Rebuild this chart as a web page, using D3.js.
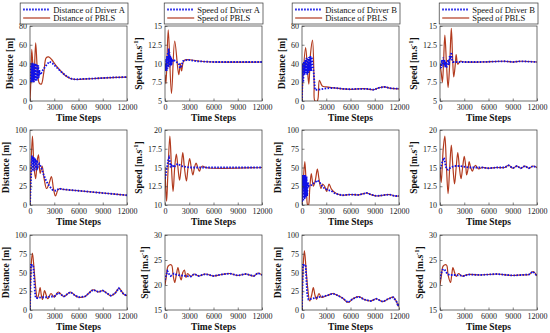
<!DOCTYPE html>
<html><head><meta charset="utf-8">
<script src="https://cdn.jsdelivr.net/npm/d3@7"></script>
<style>
body{margin:0;background:#fff}
text{font-family:"Liberation Serif","Times New Roman",serif}
</style></head>
<body><svg id="c" width="550" height="333"></svg>
<script>
// ---------- data ----------
const xTicks = [0, 3000, 6000, 9000, 12000];
const distTicks80 = [0, 20, 40, 60, 80];
const distTicks100 = [0, 25, 50, 75, 100];
const speedTicks5 = [5, 7.5, 10, 12.5, 15];
const speedTicks10 = [10, 12.5, 15, 17.5, 20];
const speedTicks15 = [15, 20, 25, 30];

const legendLabels = [
  ["Distance of Driver A", "Distance of PBLS"],
  ["Speed of Driver A", "Speed of PBLS"],
  ["Distance of Driver B", "Distance of PBLS"],
  ["Speed of Driver B", "Speed of PBLS"]
];

// Row 1
const r1DistA_driver = [[0,20],[60,40],[120,21],[180,40],[240,20],[300,41],[360,21],[420,40],[480,20],[540,40],[600,22],[660,40],[720,21],[780,40],[840,22],[900,39],[960,23],[1020,38],[1080,25],[1150,33],[1300,28],[1600,33],[2000,38],[2400,42],[2800,40],[3400,35],[4000,30],[4600,26],[5200,23.5],[5600,23],[6500,23.5],[8000,24],[10000,25],[12000,25.5]];
const r1DistA_pbls = [[0,0],[100,20],[220,55],[400,30],[480,20],[700,62],[900,35],[1150,19],[1400,18],[1700,30],[2000,46],[2300,47],[2700,44],[3200,38],[3800,32],[4400,27],[5000,24],[5500,23],[6500,23.3],[8000,24],[10000,25],[12000,25.5]];
const r1SpdA_driver = [[0,9],[50,10],[100,9.2],[150,10.6],[200,9],[250,11],[300,9.3],[350,11.5],[400,9.5],[450,12],[500,9.5],[550,11.5],[600,9.5],[650,11],[700,9.7],[750,10.8],[800,9.8],[900,10.6],[1000,10.2],[1200,10.4],[1700,10],[1850,9.4],[2000,9.6],[2200,10.3],[2800,10.5],[4000,10.3],[6000,10.2],[12000,10.2]];
const r1SpdA_pbls = [[0,8.5],[120,7.3],[400,14.5],[800,6],[1200,13],[1700,8.5],[1900,10],[2050,9],[2350,10.4],[3000,10.5],[4400,10.3],[6000,10.2],[12000,10.2]];
const r1DistB_driver = [[0,0],[80,40],[160,20],[240,42],[320,28],[400,44],[480,30],[560,46],[640,28],[720,45],[800,30],[880,47],[960,32],[1040,48],[1120,32],[1200,47],[1300,40],[1450,30],[1600,12],[2000,12],[3000,13.5],[4000,14],[5000,13],[6000,12.5],[7000,13],[8000,13],[8800,12],[9500,14],[10200,15],[11000,13.5],[12000,13]];
const r1DistB_pbls = [[0,0],[150,30],[450,57],[700,30],[850,18],[1050,50],[1300,65],[1500,20],[1600,0],[1900,0],[2150,22],[2500,16],[3000,15],[4000,14],[5000,13],[6000,12.5],[7000,13],[8000,13],[8800,12],[9500,14],[10200,15],[11000,13.5],[12000,13]];
const r1SpdB_driver = [[0,9.3],[80,10],[160,9.4],[240,10.5],[320,9.6],[400,10.8],[480,9.8],[560,10.5],[640,9.5],[720,10.2],[800,9.4],[900,10],[1000,10.5],[1100,9.8],[1200,11],[1300,10.6],[1400,11.5],[1500,10.5],[1600,10.2],[2000,10.2],[5000,10.2],[8000,10.3],[9000,10.2],[10000,10.3],[12000,10.2]];
const r1SpdB_pbls = [[0,10],[150,8.8],[300,7.5],[450,10.5],[600,13.8],[800,10],[1000,6.8],[1200,10],[1400,14.7],[1550,11],[1700,8.2],[1900,10],[2000,11.2],[2200,9.9],[2500,10.3],[3000,10.2],[5000,10.2],[8000,10.3],[9000,10.2],[10000,10.3],[12000,10.2]];

// Row 2
const r2DistA_driver = [[0,0],[100,30],[250,66],[350,45],[450,64],[550,45],[650,62],[750,47],[850,60],[950,50],[1150,55],[1400,50],[1700,40],[2000,32],[2400,25],[2800,20],[3200,19],[3600,22],[4000,21],[6000,19],[8000,17],[10000,15],[12000,13]];
const r2DistA_pbls = [[0,0],[100,40],[300,92],[500,50],[700,35],[900,60],[1050,67],[1250,42],[1500,52],[1750,35],[2050,22],[2400,30],[2650,38],[2900,22],[3150,12],[3450,20],[3700,22],[4000,21],[6000,19],[8000,17],[10000,15],[12000,13]];
const r2SpdA_driver = [[0,13.5],[100,14],[200,14.8],[300,15.3],[400,16],[500,16.3],[600,15.8],[700,15],[800,15.3],[900,15.4],[1100,15],[1300,15.3],[1600,15.5],[2000,15.2],[3000,15],[12000,15]];
const r2SpdA_pbls = [[0,15],[100,12],[200,10.5],[350,14],[600,19.2],[800,15],[1000,11.8],[1200,15],[1400,16.8],[1600,15],[1800,13.3],[2000,15],[2200,17],[2400,15],[2650,13.2],[2850,15],[3050,16.2],[3250,15],[3450,14],[3650,15],[3850,15.6],[4050,15],[4250,14.5],[4450,15],[4650,15.2],[5000,15],[12000,15]];
const r2DistB_driver = [[0,0],[80,40],[160,5],[240,40],[320,8],[400,40],[480,10],[560,38],[640,12],[720,30],[850,25],[1000,25],[1300,28],[1600,30],[1900,33],[2200,30],[2500,25],[2800,22],[3200,20],[3600,19],[4000,16],[4500,14],[5000,13],[6000,14],[7000,13.5],[8000,16],[8500,14],[9200,12],[10000,13],[10800,14],[11500,12],[12000,12]];
const r2DistB_pbls = [[0,0],[150,30],[350,58],[550,20],[700,0],[800,0],[950,20],[1150,42],[1400,25],[1650,33],[1900,48],[2100,35],[2350,22],[2550,28],[2800,25],[3050,18],[3350,28],[3600,22],[3900,18],[4300,15],[5000,13],[6000,14],[7000,13.5],[8000,16],[8500,14],[9200,12],[10000,13],[10800,14],[11500,12],[12000,12]];
const r2SpdB_driver = [[0,14.8],[150,15.2],[300,15.8],[500,16.3],[650,15.5],[800,14.8],[1000,14.7],[1300,15],[1800,15.2],[2500,15.2],[3500,15],[5200,15],[6000,14.9],[7000,15],[8000,15],[8500,15.3],[9000,14.9],[9500,15.2],[10000,14.9],[10500,15.2],[11000,14.9],[11500,15.2],[12000,15]];
const r2SpdB_pbls = [[0,15],[150,13],[400,17.5],[600,19.2],[800,15],[1000,11.5],[1200,15],[1400,18],[1600,15],[1800,12.8],[2000,15],[2200,17],[2400,15],[2600,13.5],[2800,15],[3000,16.5],[3200,15],[3300,14],[3500,15],[3600,15.8],[3800,15],[4000,14.5],[4200,15],[4400,15.3],[4600,15],[4800,14.8],[5200,15],[6000,14.9],[7000,15],[8000,15],[8500,15.3],[9000,14.9],[9500,15.2],[10000,14.9],[10500,15.2],[11000,14.9],[11500,15.2],[12000,15]];

// Row 3
const r3DistA_driver = [[0,0],[50,30],[120,60],[400,60],[500,45],[600,25],[700,16],[900,16],[1500,17],[2000,17],[2500,18],[3000,18],[3500,23],[4200,18],[5000,24],[5500,20],[6000,17],[6800,18],[7800,27],[8500,24],[9000,26],[10000,19],[10500,22],[11000,29],[11600,21],[12000,19]];
const r3DistA_pbls = [[0,0],[150,60],[300,76],[500,55],[700,30],[900,15],[1100,22],[1250,30],[1400,20],[1550,14],[1800,26],[2000,20],[2200,15],[2600,22],[3000,17],[3500,24],[4200,18],[5000,24],[5500,20],[6000,17],[6800,18],[7800,27],[8500,24],[9000,26],[10000,19],[10500,22],[11000,29],[11600,21],[12000,19]];
const r3SpdA_driver = [[0,21],[150,22],[300,22.8],[500,22.2],[700,21.8],[900,22],[1100,22.3],[1500,22],[2000,21.9],[3200,21.7],[3600,22.2],[4200,21.8],[5000,22.2],[6000,21.8],[7000,22.1],[8000,22.3],[9000,21.9],[10000,22.2],[11000,21.8],[11500,22.4],[12000,22]];
const r3SpdA_pbls = [[0,20],[150,21.5],[400,23.8],[800,24],[1000,22],[1200,20.5],[1400,22],[1600,23.5],[1800,22],[2000,21],[2200,22.5],[2400,23],[2600,21.5],[2800,22.3],[3200,21.7],[3600,22.2],[4200,21.8],[5000,22.2],[6000,21.8],[7000,22.1],[8000,22.3],[9000,21.9],[10000,22.2],[11000,21.8],[11500,22.4],[12000,22]];
const r3DistB_driver = [[0,0],[50,30],[120,60],[450,60],[550,40],[650,20],[800,14],[1200,15],[2000,17],[3000,19],[3800,22],[4300,20],[5000,16],[5700,10],[6300,15],[7000,18],[7700,14],[8500,12],[9200,15],[10000,11],[10700,15],[11300,17],[11700,11],[11900,5],[12000,9]];
const r3DistB_pbls = [[0,0],[150,60],[300,79],[500,55],[700,30],[950,12],[1200,20],[1400,30],[1600,20],[1800,14],[2100,22],[2400,17],[2800,18],[3300,20],[3800,22],[4300,20],[5000,16],[5700,10],[6300,15],[7000,18],[7700,14],[8500,12],[9200,15],[10000,11],[10700,15],[11300,17],[11700,11],[11900,5],[12000,9]];
const r3SpdB_driver = [[0,21.2],[150,22.3],[300,23],[500,23.2],[700,22.8],[900,22.2],[1200,22],[2000,22],[3000,21.8],[3500,22.1],[5000,22],[7000,22.2],[9000,21.9],[10000,22],[11000,22.1],[11500,22.7],[12000,21.8]];
const r3SpdB_pbls = [[0,20],[150,21.5],[400,23.8],[800,24],[1000,22],[1300,20.5],[1450,22],[1600,23.5],[1800,22.5],[2000,21.7],[2300,22.3],[2700,21.8],[3500,22.1],[5000,22],[7000,22.2],[9000,21.9],[10000,22],[11000,22.1],[11500,22.7],[12000,21.8]];

// ---------- panels ----------
const panels = [
  {row:0,col:0,kind:"dist",ticks:distTicks80,driver:r1DistA_driver,pbls:r1DistA_pbls,legend:legendLabels[0]},
  {row:0,col:1,kind:"speed",ticks:speedTicks5,driver:r1SpdA_driver,pbls:r1SpdA_pbls,legend:legendLabels[1]},
  {row:0,col:2,kind:"dist",ticks:distTicks80,driver:r1DistB_driver,pbls:r1DistB_pbls,legend:legendLabels[2]},
  {row:0,col:3,kind:"speed",ticks:speedTicks5,driver:r1SpdB_driver,pbls:r1SpdB_pbls,legend:legendLabels[3]},
  {row:1,col:0,kind:"dist",ticks:distTicks100,driver:r2DistA_driver,pbls:r2DistA_pbls},
  {row:1,col:1,kind:"speed",ticks:speedTicks10,driver:r2SpdA_driver,pbls:r2SpdA_pbls},
  {row:1,col:2,kind:"dist",ticks:distTicks100,driver:r2DistB_driver,pbls:r2DistB_pbls},
  {row:1,col:3,kind:"speed",ticks:speedTicks10,driver:r2SpdB_driver,pbls:r2SpdB_pbls},
  {row:2,col:0,kind:"dist",ticks:distTicks100,driver:r3DistA_driver,pbls:r3DistA_pbls},
  {row:2,col:1,kind:"speed",ticks:speedTicks15,driver:r3SpdA_driver,pbls:r3SpdA_pbls},
  {row:2,col:2,kind:"dist",ticks:distTicks100,driver:r3DistB_driver,pbls:r3DistB_pbls},
  {row:2,col:3,kind:"speed",ticks:speedTicks15,driver:r3SpdB_driver,pbls:r3SpdB_pbls}
];

const colLeft = [30, 165, 302, 440];
const rowTop = [26, 130, 235];
const W = 97, H = 75;
const BLUE = "#1010e8", RED = "#b23a1e";

const svg = d3.select("#c");
const fmt = d3.format("");

panels.forEach(p => {
  const g = svg.append("g").attr("transform", `translate(${colLeft[p.col]},${rowTop[p.row]})`);
  const x = d3.scaleLinear().domain([0, 12000]).range([0, W]);
  const y = d3.scaleLinear().domain([p.ticks[0], p.ticks[p.ticks.length-1]]).range([H, 0]);

  g.append("rect").attr("width", W).attr("height", H).attr("fill", "#fff");

  const clipId = `clip${p.row}${p.col}`;
  g.append("clipPath").attr("id", clipId).append("rect").attr("width", W).attr("height", H);

  const smooth = d3.line().x(d => x(d[0])).y(d => y(d[1])).curve(d3.curveCatmullRom.alpha(0.5));
  const line = d3.line().x(d => x(d[0])).y(d => y(d[1]));
  const lines = g.append("g").attr("clip-path", `url(#${clipId})`);
  lines.append("path").datum(p.pbls).attr("d", smooth)
    .attr("fill", "none").attr("stroke", RED).attr("stroke-width", 1.2);
  lines.append("path").datum(p.driver).attr("d", line)
    .attr("fill", "none").attr("stroke", BLUE).attr("stroke-width", 1.8)
    .attr("stroke-dasharray", "1.6,1.4");

  // axes
  const xa = g.append("g").attr("transform", `translate(0,${H})`)
    .call(d3.axisBottom(x).tickValues(xTicks).tickFormat(fmt).tickSizeInner(-2.5).tickSizeOuter(0).tickPadding(3.5));
  const ya = g.append("g")
    .call(d3.axisLeft(y).tickValues(p.ticks).tickFormat(fmt).tickSizeInner(-2.5).tickSizeOuter(0).tickPadding(3));
  [xa, ya].forEach(a => {
    a.select(".domain").remove();
    a.selectAll("line").attr("stroke", "#333").attr("stroke-width", 0.6);
    a.selectAll("text").attr("font-size", 8).attr("fill", "#222")
      .style("font-family", '"Liberation Serif",serif');
  });
  g.append("rect").attr("width", W).attr("height", H).attr("fill", "none")
    .attr("stroke", "#333").attr("stroke-width", 0.7);

  // x title
  g.append("text").attr("x", W/2).attr("y", H + 19.5).attr("text-anchor", "middle")
    .attr("font-size", 9.5).attr("font-weight", "bold").attr("fill", "#111").text("Time Steps");

  // y title
  let maxW = 0;
  ya.selectAll("text").each(function(){ maxW = Math.max(maxW, this.getComputedTextLength()); });
  const yl = g.append("text").attr("transform", `translate(${-maxW - 9},${H/2}) rotate(-90)`)
    .attr("text-anchor", "middle").attr("font-size", 9.5).attr("font-weight", "bold").attr("fill", "#111");
  if (p.kind === "dist") {
    yl.text("Distance [m]");
  } else {
    yl.append("tspan").text("Speed [m.s");
    yl.append("tspan").attr("font-size", 6.5).attr("dy", -4).text("-1");
    yl.append("tspan").attr("dy", 4).text("]");
  }

  // legend
  if (p.legend) {
    const lg = svg.append("g");
    const t1 = lg.append("text").attr("font-size", 8.6).attr("fill", "#111").text(p.legend[0]);
    const t2 = lg.append("text").attr("font-size", 8.6).attr("fill", "#111").text(p.legend[1]);
    const tw = Math.max(t1.node().getComputedTextLength(), t2.node().getComputedTextLength());
    const bw = 3 + 27 + 3 + tw + 3;
    const right = colLeft[p.col] + W + 1;
    const left = right - bw;
    const top = 3, bh = 21;
    lg.insert("rect", "text").attr("x", left).attr("y", top).attr("width", bw).attr("height", bh)
      .attr("fill", "#fff").attr("stroke", "#333").attr("stroke-width", 0.7);
    lg.append("line").attr("x1", left + 3).attr("x2", left + 30).attr("y1", top + 6.5).attr("y2", top + 6.5)
      .attr("stroke", BLUE).attr("stroke-width", 1.8).attr("stroke-dasharray", "1.6,1.4");
    lg.append("line").attr("x1", left + 3).attr("x2", left + 30).attr("y1", top + 15).attr("y2", top + 15)
      .attr("stroke", RED).attr("stroke-width", 1.2);
    t1.attr("x", left + 33).attr("y", top + 9.5);
    t2.attr("x", left + 33).attr("y", top + 18);
  }
});
</script></body></html>
